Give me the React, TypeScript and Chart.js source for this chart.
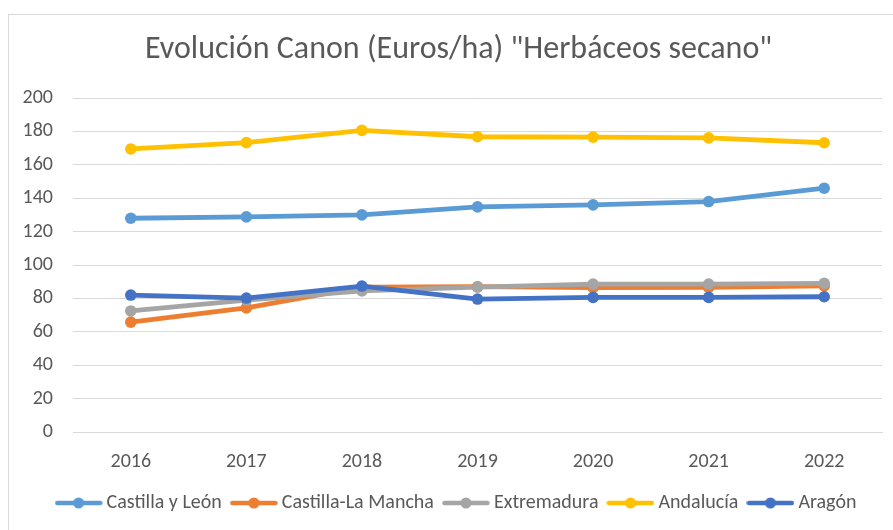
import React, { useEffect, useRef } from "react";
import { Chart, registerables } from "chart.js";

Chart.register(...registerables);

const categories = ["2016", "2017", "2018", "2019", "2020", "2021", "2022"];
const seriesNames = ["Castilla y León", "Castilla-La Mancha", "Extremadura", "Andalucía", "Aragón"];
const castillaLeon = [128, 128.8, 130, 134.8, 136, 138, 146];
const castillaLaMancha = [65.8, 74.3, 86.8, 87, 86.5, 86.6, 87.5];
const extremadura = [72.5, 79, 84.5, 86.8, 88.6, 88.6, 89];
const andalucia = [169.5, 173.3, 180.6, 176.8, 176.6, 176.1, 173.2];
const aragon = [82, 80.2, 87.4, 79.6, 80.6, 80.6, 81];
const seriesColors = ["#5B9BD5", "#ED7D31", "#A5A5A5", "#FFC000", "#4472C4"];
const yMin = 0;
const yMax = 200;
const yStep = 20;
const titleText = 'Evolución Canon (Euros/ha) "Herbáceos secano"';

const FONT = "Carlito, Calibri, Lato, sans-serif";
const TEXT = "#595959";
const GRID = "#d9d9d9";
const CENTER_SHIFT = 13;

function makeLegendIcon(color: string): HTMLCanvasElement {
  const c = document.createElement("canvas");
  c.width = 48;
  c.height = 14;
  const ctx = c.getContext("2d")!;
  ctx.strokeStyle = color;
  ctx.lineWidth = 4.5;
  ctx.lineCap = "round";
  ctx.beginPath();
  ctx.moveTo(2.5, 7);
  ctx.lineTo(45.5, 7);
  ctx.stroke();
  ctx.fillStyle = color;
  ctx.beginPath();
  ctx.arc(24, 7, 5.5, 0, Math.PI * 2);
  ctx.fill();
  return c;
}

const shiftBoxes = {
  id: "shiftBoxes",
  beforeDraw(chart: any) {
    const boxes = [chart.titleBlock, chart.legend];
    boxes.forEach((b: any) => {
      if (b && !b._shifted) {
        b.left += CENTER_SHIFT;
        b.right += CENTER_SHIFT;
        b._shifted = true;
      }
    });
  },
};

export default function App() {
  const ref = useRef<HTMLCanvasElement | null>(null);

  useEffect(() => {
    if (!ref.current) return;
    const all = [castillaLeon, castillaLaMancha, extremadura, andalucia, aragon];
    const icons = seriesColors.map(makeLegendIcon);
    const chart = new Chart(ref.current, {
      type: "line",
      data: {
        labels: categories,
        datasets: all.map((d, i) => ({
          label: seriesNames[i],
          data: d,
          borderColor: seriesColors[i],
          backgroundColor: seriesColors[i],
          borderWidth: 4.8,
          pointRadius: 5.8,
          pointBorderWidth: 0,
          pointBackgroundColor: seriesColors[i],
          pointStyle: "circle",
          tension: 0,
          order: all.length - i,
        })),
      },
      plugins: [shiftBoxes],
      options: {
        animation: false,
        responsive: false,
        maintainAspectRatio: false,
        layout: { padding: { left: 0, right: 33, top: 0, bottom: 22 } },
        plugins: {
          tooltip: { enabled: false },
          title: {
            display: true,
            text: titleText,
            color: TEXT,
            font: { family: FONT, size: 32, weight: "normal" },
            padding: { top: 16, bottom: 28.6 },
          },
          legend: {
            position: "bottom",
            labels: {
              color: TEXT,
              font: { family: FONT, size: 20 },
              usePointStyle: true,
              pointStyleWidth: 36,
              padding: 14,
              generateLabels: (chart: any) =>
                chart.data.datasets.map((ds: any, i: number) => ({
                  text: ds.label,
                  fillStyle: seriesColors[i],
                  strokeStyle: seriesColors[i],
                  lineWidth: 0,
                  pointStyle: icons[i],
                  datasetIndex: i,
                  hidden: false,
                  fontColor: TEXT,
                })),
            },
          },
        },
        scales: {
          x: {
            offset: true,
            grid: { display: false, drawTicks: false, offset: true },
            border: { display: true, color: GRID, width: 1 },
            ticks: { color: TEXT, font: { family: FONT, size: 20 }, padding: 18 },
            afterFit: (s: any) => {
              s.height = 47;
            },
          },
          y: {
            min: yMin,
            max: yMax,
            grid: { color: GRID, drawTicks: false },
            border: { display: false },
            ticks: {
              stepSize: yStep,
              color: TEXT,
              font: { family: FONT, size: 20 },
              padding: 20,
            },
            afterFit: (s: any) => {
              s.width = 64;
            },
          },
        },
      },
    });
    return () => chart.destroy();
  }, []);

  return (
    <div
      style={{
        position: "fixed",
        left: 0,
        top: 0,
        width: 893,
        height: 530,
        overflow: "hidden",
        background: "#fff",
      }}
    >
      <div
        style={{
          position: "absolute",
          left: 8,
          top: 14,
          width: 906,
          height: 540,
          border: "1px solid #d9d9d9",
        }}
      >
        <canvas ref={ref} width={906} height={530} style={{ display: "block" }} />
      </div>
    </div>
  );
}
